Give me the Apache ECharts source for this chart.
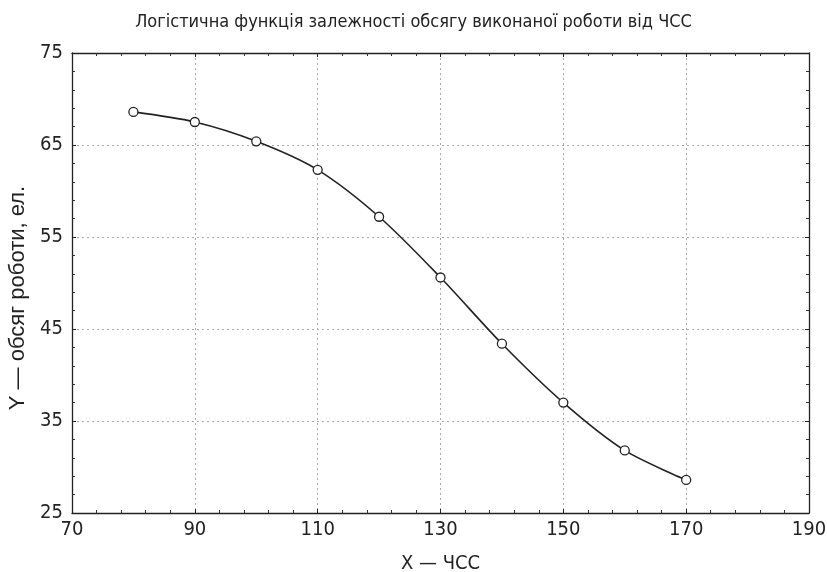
<!DOCTYPE html>
<html>
<head>
<meta charset="utf-8">
<script src="https://cdn.jsdelivr.net/npm/echarts@6/dist/echarts.min.js"></script>
<style>
html,body{margin:0;padding:0;background:#fff;}
#chart{width:827px;height:572px;}
</style>
</head>
<body>
<div id="chart"></div>
<script>
const xValues = [80, 90, 100, 110, 120, 130, 140, 150, 160, 170];
const yValues = [68.6, 67.5, 65.4, 62.3, 57.2, 50.6, 43.4, 37.0, 31.8, 28.6];
const titleText = 'Логістична функція залежності обсягу виконаної роботи від ЧСС';
const xName = 'X — ЧСС';
const yName = 'Y — обсяг роботи, ел.';

const narrow = "'Liberation Sans Narrow', 'DejaVu Sans Condensed', 'Liberation Sans', sans-serif";
const chart = echarts.init(document.getElementById('chart'));
const tickStyle = {show: true, inside: true, length: 4, lineStyle: {color: '#222', width: 1}};
const minorStyle = {show: true, splitNumber: 5, length: 3, lineStyle: {color: '#333', width: 1}};
chart.setOption({
  backgroundColor: '#fff',
  animation: false,
  title: {
    text: titleText, left: 'center', top: 8,
    textStyle: {fontFamily: narrow, fontSize: 18, fontWeight: 'normal', color: '#222'}
  },
  grid: {left: 72, right: 18, top: 53, bottom: 59, containLabel: false, outerBoundsMode: 'none'},
  xAxis: [{
    type: 'value', min: 70, max: 190, interval: 20, position: 'bottom',
    name: xName, nameLocation: 'middle', nameGap: 41,
    nameTextStyle: {fontFamily: narrow, fontSize: 20, color: '#222'},
    axisLine: {show: true, lineStyle: {color: '#222', width: 1.3}},
    axisTick: tickStyle, minorTick: minorStyle,
    axisLabel: {fontFamily: narrow, fontSize: 20, color: '#222', margin: 7},
    splitLine: {show: true, lineStyle: {color: '#aaa', type: [2, 3], width: 1}}
  }, {
    type: 'value', min: 70, max: 190, interval: 20, position: 'top',
    axisLine: {show: true, lineStyle: {color: '#222', width: 1.3}},
    axisTick: tickStyle, minorTick: minorStyle,
    axisLabel: {show: false}, splitLine: {show: false}
  }],
  yAxis: [{
    type: 'value', min: 25, max: 75, interval: 10, position: 'left',
    name: yName, nameLocation: 'middle', nameGap: 40,
    nameTextStyle: {fontFamily: "'Liberation Sans', Arial, sans-serif", fontSize: 22, color: '#222', padding: [0, 30, 0, 0]},
    axisLine: {show: true, lineStyle: {color: '#222', width: 1.3}},
    axisTick: tickStyle, minorTick: minorStyle,
    axisLabel: {fontFamily: narrow, fontSize: 20, color: '#222', margin: 9},
    splitLine: {show: true, lineStyle: {color: '#aaa', type: [2, 3], width: 1}}
  }, {
    type: 'value', min: 25, max: 75, interval: 10, position: 'right',
    axisLine: {show: true, lineStyle: {color: '#222', width: 1.3}},
    axisTick: tickStyle, minorTick: minorStyle,
    axisLabel: {show: false}, splitLine: {show: false}
  }],
  series: [{
    type: 'line',
    data: xValues.map((x, i) => [x, yValues[i]]),
    smooth: 0.3,
    symbol: 'circle', symbolSize: 9,
    itemStyle: {color: '#fff', borderColor: '#222', borderWidth: 1.3},
    lineStyle: {color: '#222', width: 1.6}
  }]
});
</script>
</body>
</html>
